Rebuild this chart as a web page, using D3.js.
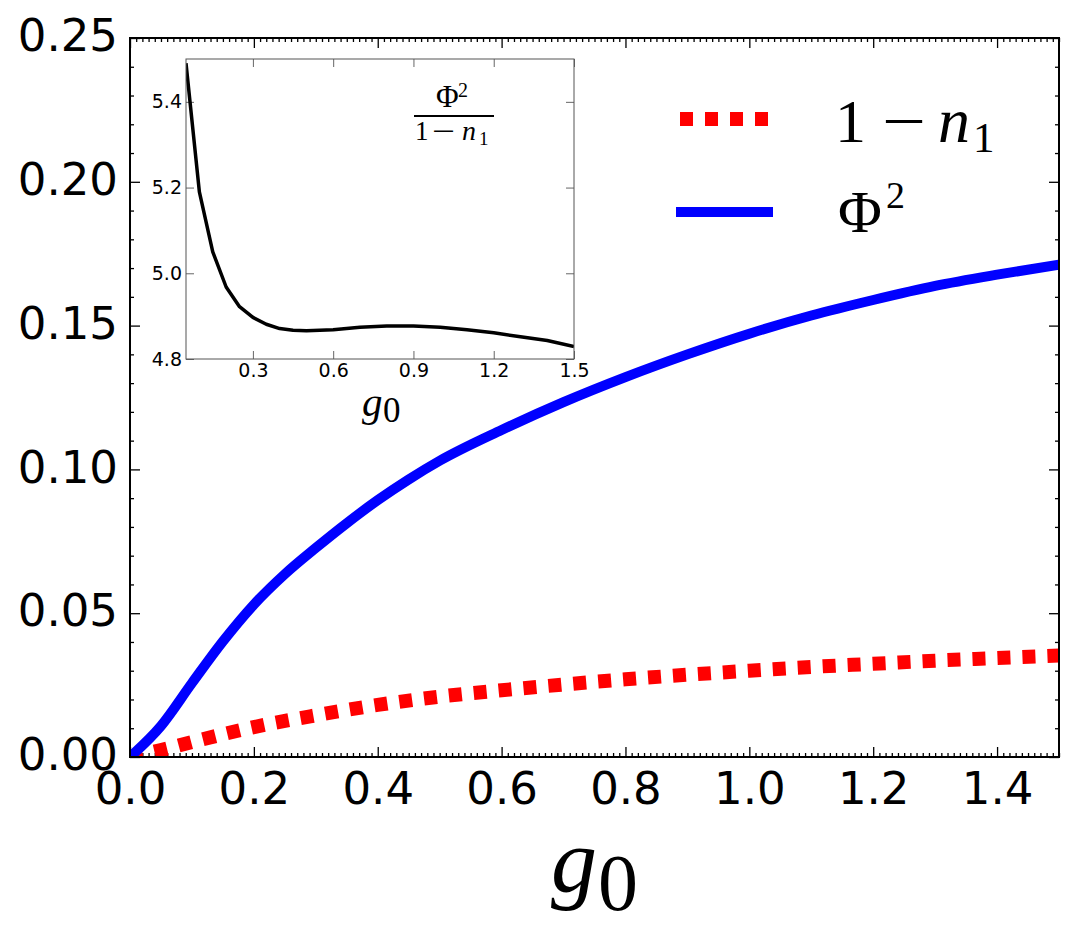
<!DOCTYPE html>
<html><head><meta charset="utf-8">
<script src="https://cdn.jsdelivr.net/npm/d3@7"></script>
<style>body{margin:0;background:#fff}</style>
</head><body><svg id="c" width="1075" height="929"></svg>
<script>
// ---- data ----
const gBlue = [0, 0.05, 0.1, 0.15, 0.2, 0.25, 0.3, 0.35, 0.4, 0.45, 0.5, 0.6, 0.7, 0.8, 0.9, 1.0, 1.1, 1.2, 1.3, 1.4, 1.5];
const phiSquared = [0, 0.0108, 0.0257, 0.0402, 0.0530, 0.0636, 0.0727, 0.0813, 0.0893, 0.0965, 0.1030, 0.1137, 0.1234, 0.1321, 0.1400, 0.1472, 0.1535, 0.1589, 0.1638, 0.1677, 0.1712];
const gRed = [0, 0.05, 0.1, 0.15, 0.2, 0.3, 0.4, 0.5, 0.6, 0.7, 0.8, 0.9, 1.0, 1.1, 1.2, 1.3, 1.4, 1.5];
const oneMinusN1 = [0, 0.0024, 0.0052, 0.0079, 0.0104, 0.0145, 0.0181, 0.0210, 0.0232, 0.0252, 0.0270, 0.0286, 0.0300, 0.0313, 0.0324, 0.0335, 0.0344, 0.0353];
const gInset = [0.05, 0.1, 0.15, 0.2, 0.25, 0.3, 0.35, 0.4, 0.45, 0.5, 0.6, 0.7, 0.8, 0.9, 1.0, 1.1, 1.2, 1.3, 1.4, 1.5];
const ratioValues = [5.49, 5.19, 5.05, 4.968, 4.922, 4.897, 4.881, 4.871, 4.867, 4.866, 4.868, 4.874, 4.877, 4.877, 4.874, 4.868, 4.861, 4.852, 4.843, 4.829];
const xTicks = [0, 0.2, 0.4, 0.6, 0.8, 1.0, 1.2, 1.4];
const yTicks = [0, 0.05, 0.10, 0.15, 0.20, 0.25];
const insetXTicks = [0.3, 0.6, 0.9, 1.2, 1.5];
const insetYTicks = [4.8, 5.0, 5.2, 5.4];

const SERIF = "'Liberation Serif', 'Times New Roman', Times, serif";
const svg = d3.select('#c');
const L = 130, R = 1059, T = 38, B = 757;
const x = d3.scaleLinear().domain([0, 1.5]).range([L, R]);
const y = d3.scaleLinear().domain([0, 0.25]).range([B, T]);

const xMinor = d3.range(0, 151).map(i => i / 100).filter(v => Math.abs(v * 5 - Math.round(v * 5)) > 1e-6);
const yMinor = d3.range(0, 26).map(i => i / 100).filter(v => Math.abs(v * 20 - Math.round(v * 20)) > 1e-6);

svg.append('rect').attr('x', 0).attr('y', 0).attr('width', 1075).attr('height', 929).attr('fill', '#fff');

function styleAxis(g, fs) {
  g.select('.domain').remove();
  g.selectAll('.tick line').attr('stroke', '#000').attr('stroke-width', 1.3);
  g.selectAll('.tick text').attr('font-family', 'DejaVu Sans').attr('font-size', fs).attr('fill', '#000');
}
const fmt2 = d3.format('.2f'), fmt1 = d3.format('.1f');

svg.append('g').attr('transform', `translate(0,${B})`)
  .call(d3.axisBottom(x).tickValues(xTicks).tickFormat(fmt1).tickSizeInner(-10).tickSizeOuter(0).tickPadding(15))
  .call(g => styleAxis(g, 45));
svg.append('g').attr('transform', `translate(0,${B})`)
  .call(d3.axisBottom(x).tickValues(xMinor).tickFormat('').tickSizeInner(-4).tickSizeOuter(0))
  .call(g => styleAxis(g, 10));
svg.append('g').attr('transform', `translate(0,${T})`)
  .call(d3.axisTop(x).tickValues(xTicks).tickFormat('').tickSizeInner(-10).tickSizeOuter(0))
  .call(g => styleAxis(g, 10));
svg.append('g').attr('transform', `translate(0,${T})`)
  .call(d3.axisTop(x).tickValues(xMinor).tickFormat('').tickSizeInner(-4).tickSizeOuter(0))
  .call(g => styleAxis(g, 10));
svg.append('g').attr('transform', `translate(${L},0)`)
  .call(d3.axisLeft(y).tickValues(yTicks).tickFormat(fmt2).tickSizeInner(-10).tickSizeOuter(0).tickPadding(12))
  .call(g => styleAxis(g, 45))
  .call(g => g.selectAll('.tick text').attr('dy', '0.28em'));
svg.append('g').attr('transform', `translate(${L},0)`)
  .call(d3.axisLeft(y).tickValues(yMinor).tickFormat('').tickSizeInner(-4).tickSizeOuter(0))
  .call(g => styleAxis(g, 10));
svg.append('g').attr('transform', `translate(${R},0)`)
  .call(d3.axisRight(y).tickValues(yTicks).tickFormat('').tickSizeInner(-10).tickSizeOuter(0))
  .call(g => styleAxis(g, 10));
svg.append('g').attr('transform', `translate(${R},0)`)
  .call(d3.axisRight(y).tickValues(yMinor).tickFormat('').tickSizeInner(-4).tickSizeOuter(0))
  .call(g => styleAxis(g, 10));

svg.append('clipPath').attr('id', 'clipMain').append('rect')
  .attr('x', L).attr('y', T).attr('width', R - L).attr('height', B - T);

const curve = d3.curveMonotoneX;
const lineRed = d3.line().x((d, i) => x(gRed[i])).y(d => y(d)).curve(curve);
const lineBlue = d3.line().x((d, i) => x(gBlue[i])).y(d => y(d)).curve(curve);
const plot = svg.append('g').attr('clip-path', 'url(#clipMain)');
plot.append('path').datum(oneMinusN1).attr('d', lineRed)
  .attr('fill', 'none').attr('stroke', '#ff0000').attr('stroke-width', 14)
  .attr('stroke-dasharray', '13,12').attr('stroke-linecap', 'butt');
plot.append('path').datum(phiSquared).attr('d', lineBlue)
  .attr('fill', 'none').attr('stroke', '#0000ff').attr('stroke-width', 10)
  .attr('stroke-linejoin', 'round');

svg.append('rect').attr('x', L).attr('y', T).attr('width', R - L).attr('height', B - T)
  .attr('fill', 'none').attr('stroke', '#000').attr('stroke-width', 2);

// x label g_0
const xl = svg.append('text').attr('font-family', SERIF).attr('fill', '#000');
xl.append('tspan').attr('x', 551).attr('y', 892).attr('font-size', 92).attr('font-style', 'italic').text('g');
xl.append('tspan').attr('x', 598).attr('y', 910).attr('font-size', 80).text('0');

// legend
const legend = svg.append('g');
legend.append('line').attr('x1', 680).attr('x2', 773).attr('y1', 119).attr('y2', 119)
  .attr('stroke', '#ff0000').attr('stroke-width', 14).attr('stroke-dasharray', '13,12');
legend.append('line').attr('x1', 676).attr('x2', 773).attr('y1', 212).attr('y2', 212)
  .attr('stroke', '#0000ff').attr('stroke-width', 10);
const l1 = legend.append('text').attr('font-family', SERIF).attr('fill', '#000');
l1.append('tspan').attr('x', 835).attr('y', 142).attr('font-size', 62).text('1');
l1.append('tspan').attr('x', 882).attr('y', 142).attr('font-size', 62)
  .attr('textLength', 44).attr('lengthAdjust', 'spacingAndGlyphs').text('\u2212');
l1.append('tspan').attr('x', 938).attr('y', 142).attr('font-size', 64).attr('font-style', 'italic').text('n');
l1.append('tspan').attr('x', 973).attr('y', 152).attr('font-size', 43).text('1');
const l2 = legend.append('text').attr('font-family', SERIF).attr('fill', '#000');
l2.append('tspan').attr('x', 838).attr('y', 232).attr('font-size', 60).text('\u03A6');
l2.append('tspan').attr('x', 886).attr('y', 208).attr('font-size', 38).text('2');

// ---- inset ----
const IL = 186, IR = 574, IT = 59, IB = 359;
const ix = d3.scaleLinear().domain([0.05, 1.5]).range([IL, IR]);
const iy = d3.scaleLinear().domain([4.8, 5.5]).range([IB, IT]);
const inset = svg.append('g');
inset.append('rect').attr('x', IL).attr('y', IT).attr('width', IR - IL).attr('height', IB - IT)
  .attr('fill', '#fff');
function styleInset(g) {
  g.select('.domain').remove();
  g.selectAll('.tick line').attr('stroke', '#666').attr('stroke-width', 1);
  g.selectAll('.tick text').attr('font-family', 'DejaVu Sans').attr('font-size', 19).attr('fill', '#000');
}
inset.append('g').attr('transform', `translate(0,${IB})`)
  .call(d3.axisBottom(ix).tickValues(insetXTicks).tickFormat(fmt1).tickSizeInner(-8).tickSizeOuter(0).tickPadding(5))
  .call(styleInset);
inset.append('g').attr('transform', `translate(0,${IT})`)
  .call(d3.axisTop(ix).tickValues(insetXTicks).tickFormat('').tickSizeInner(-8).tickSizeOuter(0))
  .call(styleInset);
inset.append('g').attr('transform', `translate(${IL},0)`)
  .call(d3.axisLeft(iy).tickValues(insetYTicks).tickFormat(fmt1).tickSizeInner(-8).tickSizeOuter(0).tickPadding(4))
  .call(styleInset);
inset.append('g').attr('transform', `translate(${IR},0)`)
  .call(d3.axisRight(iy).tickValues(insetYTicks).tickFormat('').tickSizeInner(-8).tickSizeOuter(0))
  .call(styleInset);
svg.append('clipPath').attr('id', 'clipInset').append('rect')
  .attr('x', IL).attr('y', IT).attr('width', IR - IL).attr('height', IB - IT);
const lineInset = d3.line().x((d, i) => ix(gInset[i])).y(d => iy(d));
inset.append('g').attr('clip-path', 'url(#clipInset)').append('path').datum(ratioValues).attr('d', lineInset)
  .attr('fill', 'none').attr('stroke', '#000').attr('stroke-width', 3.5).attr('stroke-linejoin', 'round');
inset.append('rect').attr('x', IL).attr('y', IT).attr('width', IR - IL).attr('height', IB - IT)
  .attr('fill', 'none').attr('stroke', '#555').attr('stroke-width', 1);

// inset annotation fraction
const num = inset.append('text').attr('font-family', SERIF).attr('fill', '#000');
num.append('tspan').attr('x', 436).attr('y', 107).attr('font-size', 31).text('\u03A6');
num.append('tspan').attr('x', 458).attr('y', 97).attr('font-size', 20).text('2');
inset.append('line').attr('x1', 414).attr('x2', 494).attr('y1', 116).attr('y2', 116)
  .attr('stroke', '#000').attr('stroke-width', 2);
const den = inset.append('text').attr('font-family', SERIF).attr('fill', '#000');
den.append('tspan').attr('x', 415).attr('y', 140).attr('font-size', 27).text('1');
den.append('tspan').attr('x', 432).attr('y', 140).attr('font-size', 27)
  .attr('textLength', 23).attr('lengthAdjust', 'spacingAndGlyphs').text('\u2212');
den.append('tspan').attr('x', 462).attr('y', 140).attr('font-size', 28).attr('font-style', 'italic').text('n');
den.append('tspan').attr('x', 479).attr('y', 145).attr('font-size', 19).text('1');

// inset x label
const il = inset.append('text').attr('font-family', SERIF).attr('fill', '#000');
il.append('tspan').attr('x', 362).attr('y', 416).attr('font-size', 41).attr('font-style', 'italic').text('g');
il.append('tspan').attr('x', 383).attr('y', 422).attr('font-size', 35).text('0');
</script></body></html>
